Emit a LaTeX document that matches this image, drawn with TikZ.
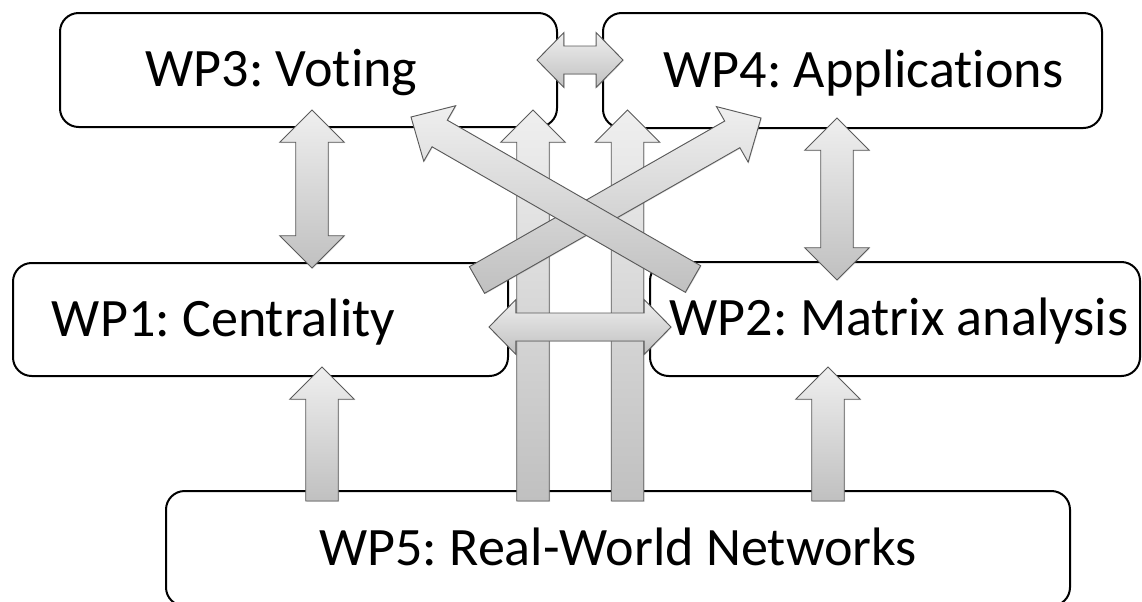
\documentclass[tikz,border=0pt]{standalone}
\usepackage{fontspec}
\setmainfont{Carlito}[Ligatures=NoCommon]
\frenchspacing
\usetikzlibrary{calc, positioning, shadows}
\definecolor{arrowtop}{HTML}{EFEFEF}
\definecolor{arrowbot}{HTML}{C0C0C0}
\definecolor{arrowline}{HTML}{5A5A5A}

% half shaft width, half head width, head length
\newcommand{\fatsize}[3]{\def\aws{#1}\def\awh{#2}\def\ahl{#3}}
\fatsize{12.2pt}{24.2pt}{24.2pt}

% block arrow with a head at both ends
\newcommand{\dblarrow}[2]{%
  \coordinate (as) at #1; \coordinate (ae) at #2;
  \coordinate (as1) at ($(as)!\ahl!(ae)$);
  \coordinate (ae1) at ($(ae)!\ahl!(as)$);
  \draw[fatarrow] (as) -- ($(as1)!\awh!90:(ae)$) -- ($(as1)!\aws!90:(ae)$)
    -- ($(ae1)!\aws!-90:(as)$) -- ($(ae1)!\awh!-90:(as)$) -- (ae)
    -- ($(ae1)!\awh!90:(as)$) -- ($(ae1)!\aws!90:(as)$)
    -- ($(as1)!\aws!-90:(ae)$) -- ($(as1)!\awh!-90:(ae)$) -- cycle;
}
% block arrow with one head
\newcommand{\onearrow}[2]{%
  \coordinate (as) at #1; \coordinate (ae) at #2;
  \coordinate (ae1) at ($(ae)!\ahl!(as)$);
  \draw[fatarrow] ($(as)!\aws!-90:(ae)$) -- ($(as)!\aws!90:(ae)$)
    -- ($(ae1)!\aws!-90:(as)$) -- ($(ae1)!\awh!-90:(as)$) -- (ae)
    -- ($(ae1)!\awh!90:(as)$) -- ($(ae1)!\aws!90:(as)$) -- cycle;
}

\tikzset{
  wpbox/.style={draw=black, line width=1.5pt, rounded corners=14pt, fill=white,
    inner sep=0pt, outer sep=0pt},
  wptext/.style={font=\fontsize{40.6}{47}\selectfont, text height=25.2pt,
    text depth=0pt, inner sep=0pt},
  fatarrow/.style={draw=arrowline, line width=0.7pt, line join=miter,
    top color=arrowtop, bottom color=arrowbot,
    drop shadow={shadow xshift=0.6pt, shadow yshift=-0.6pt, opacity=0.25}},
}

\begin{document}
\begin{tikzpicture}[x=0.75pt, y=-0.75pt]
  \useasboundingbox (0,0) rectangle (1142,601);

  % work packages
  \node[wpbox, minimum width=372.75pt, minimum height=85.5pt] (wp3) at (308.5,70) {};
  \node[wpbox, minimum width=374.25pt, minimum height=86.25pt] (wp4) at (852.5,70.5) {};
  \node[wpbox, minimum width=371.25pt, minimum height=84.75pt] (wp1) at (260.5,319.5) {};
  \node[wpbox, minimum width=367.5pt, minimum height=85.5pt] (wp2) at (895,319) {};
  \node[wpbox, minimum width=678pt, minimum height=86.25pt] (wp5) at (618,548.5) {};

  \node[wptext] (t3) at ($(wp3)+(-27,0)$) {WP3: Voting};
  \node[wptext] (t4) at ($(wp4)+(11,0)$) {WP4: Applications};
  \node[wptext] (t1) at ($(wp1)+(-37,0)$) {WP1: Centrality};
  \node[wptext] (t2) at ($(wp2)+(4,0)$) {WP2: Matrix analysis};
  \node[wptext] (t5) at (wp5) {WP5: Real-World Networks};

  % links
  \dblarrow{($(wp3.south)+(3.5,-17)$)}{($(wp1.north)+(51.5,5)$)}
  \dblarrow{($(wp4.south)+(-15.5,-10)$)}{($(wp2.north)+(-58,18)$)}
  \onearrow{($(wp5.north)+(-296,10)$)}{($(wp1.south)+(61.5,-9)$)}
  \onearrow{($(wp5.north)+(210,10)$)}{($(wp2.south)+(-67,-9)$)}
  \onearrow{($(wp5.north)+(-85,10)$)}{($(wp3.south)+(224.5,-17)$)}
  \onearrow{($(wp5.north)+(9.5,10)$)}{($(wp4.south)+(-225,-18)$)}

  \fatsize{10.5pt}{20.6pt}{20.2pt}
  \dblarrow{($(wp3.east)+(-20,-10)$)}{($(wp4.west)+(20,-10.5)$)}
  \dblarrow{($(wp1.east)+(-19,7.5)$)}{($(wp2.west)+(21,8)$)}

  \fatsize{11.5pt}{24pt}{24.8pt}
  \onearrow{($(wp1.north east)+(-31,17)$)}{($(wp4.south)+(-91.5,-10)$)}
  \onearrow{($(wp2.north west)+(43,17)$)}{($(wp3.south)+(102.5,-10)$)}
\end{tikzpicture}
\end{document}
